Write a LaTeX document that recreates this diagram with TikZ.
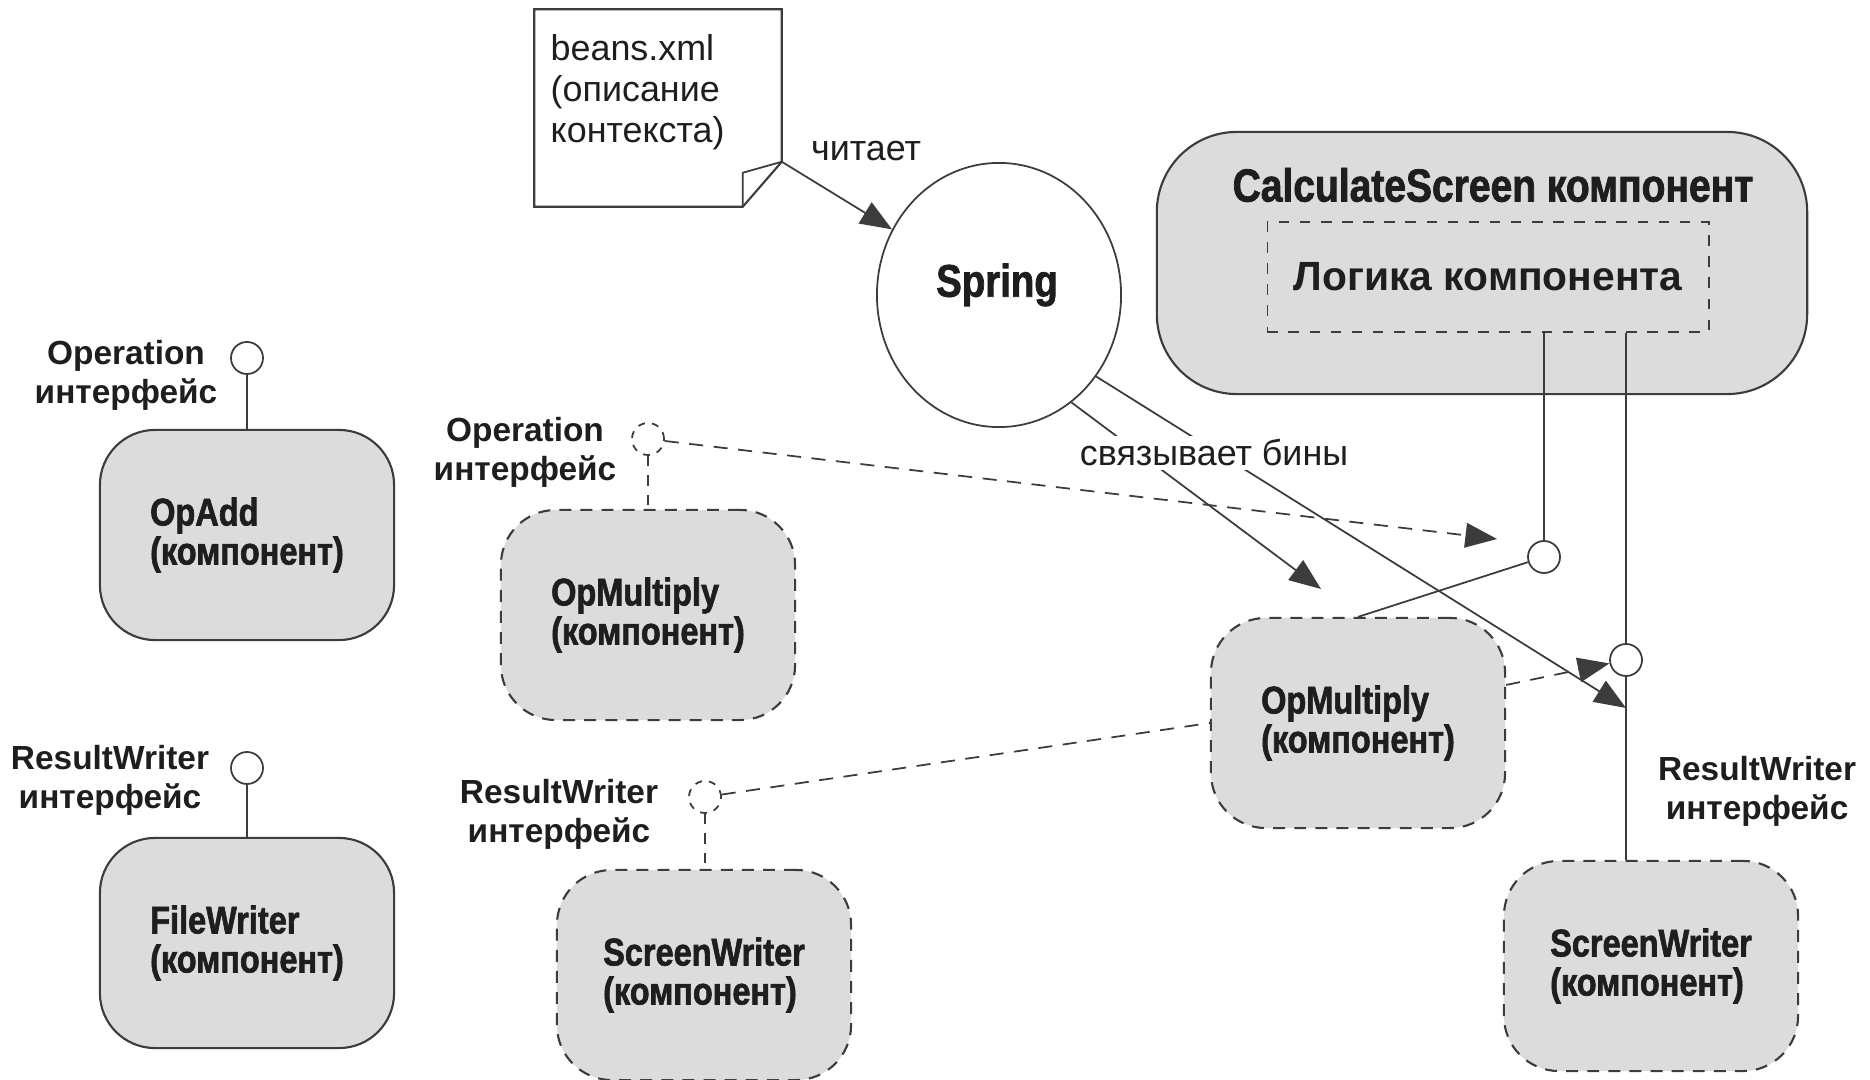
\documentclass[tikz,border=0pt]{standalone}
\usepackage{fontspec}
\setmainfont{Liberation Sans}
\newfontfamily\heavyfont[FakeStretch=0.84,BoldFeatures={FakeBold=1.6}]{Liberation Sans}
\usetikzlibrary{shapes.geometric,arrows.meta,calc}

\definecolor{compgray}{HTML}{DCDCDC}
\definecolor{linegray}{HTML}{3C3C3C}
\definecolor{textgray}{HTML}{1E1E1E}

\begin{document}
\begin{tikzpicture}[x=0.01cm,y=-0.01cm,text=textgray,
    comp/.style={draw=linegray, line width=0.6pt, fill=compgray, rounded corners=0.55cm,
      minimum width=2.94cm, minimum height=2.1cm, align=left,
      font=\heavyfont\bfseries\fontsize{11}{11.1}\selectfont},
    compdash/.style={comp, dash pattern=on 3.4pt off 2.6pt},
    iface/.style={circle, draw=linegray, line width=0.5pt, fill=white, inner sep=0pt, minimum size=0.32cm},
    ifacedash/.style={iface, dash pattern=on 2pt off 2pt},
    ilabel/.style={align=center, inner sep=0pt, font=\bfseries\fontsize{9.5}{11.1}\selectfont},
    lbl/.style={inner sep=1pt, font=\fontsize{10.2}{11.7}\selectfont},
    conn/.style={draw=linegray, line width=0.5pt},
    arr/.style={conn, -{Triangle[length=9pt,width=7pt]}},
    dasharr/.style={arr, dash pattern=on 4pt off 3pt},
    dashconn/.style={conn, dash pattern=on 4pt off 3pt}]

  \useasboundingbox (0,0) rectangle (1870,1080);

  % context file
  \node[minimum width=2.46cm, minimum height=1.96cm] (doc) at (658,108) {};
  \draw[conn, line width=0.6pt] (doc.north west) -- (doc.north east)
    -- ($(doc.south east)+(0,-45)$) coordinate (docCorner)
    -- ($(doc.south east)+(-39,0)$) coordinate (docFold)
    -- (doc.south west) -- cycle;
  \draw[conn] (docFold) -- ++(0,-34) -- (docCorner);
  \node[lbl, align=left, anchor=north west, inner sep=0pt] (docTxt) at (550,34) {beans.xml\\(описание\\контекста)};

  % spring container
  \node[ellipse, draw=linegray, line width=0.5pt, minimum width=2.44cm, minimum height=2.64cm] (spring) at (999,295) {};
  \node[font=\heavyfont\bfseries\fontsize{13}{14}\selectfont] (springTxt) at (997,285) {Spring};

  % calculate screen component
  \node[draw=linegray, line width=0.6pt, fill=compgray, rounded corners=0.8cm,
    minimum width=6.5cm, minimum height=2.62cm] (calc) at (1482,263) {};
  \node[font=\heavyfont\bfseries\fontsize{13.2}{14}\selectfont] (calcTitle) at (1493,185) {CalculateScreen компонент};
  \node[draw=linegray, line width=0.5pt, dash pattern=on 3pt off 3pt, minimum width=4.41cm, minimum height=1.1cm,
    font=\bfseries\fontsize{11.6}{12}\selectfont] (logic) at (1488,277) {Логика компонента};

  % components
  \node[comp] (opAdd) at (247,535) {OpAdd\\(компонент)};
  \node[comp] (fileWr) at (247,943) {FileWriter\\(компонент)};
  \node[compdash] (opMulM) at (648,615) {OpMultiply\\(компонент)};
  \node[compdash] (opMulR) at (1358,723) {OpMultiply\\(компонент)};
  \node[compdash] (scrWrM) at (704,975) {ScreenWriter\\(компонент)};
  \node[compdash] (scrWrR) at (1651,966) {ScreenWriter\\(компонент)};

  % interfaces
  \node[iface] (opAddIf) at (247,358) {};
  \node[iface] (fileWrIf) at (247,768) {};
  \node[ifacedash] (opMulIf) at (648,439) {};
  \node[ifacedash] (scrWrIf) at (705,797) {};
  \node[iface] (calcOpIf) at (1544,557) {};
  \node[iface] (calcWrIf) at (1626,660) {};

  \foreach \i/\c in {opAddIf/opAdd, fileWrIf/fileWr} {%
    \draw[conn] (\i) -- (\i |- \c.north);
  }
  \foreach \i/\c in {opMulIf/opMulM, scrWrIf/scrWrM} {%
    \draw[conn, dash pattern=on 3pt off 2.5pt] (\i) -- (\i |- \c.north);
  }

  % interface labels
  \node[ilabel] (opAddLbl) at (126,375) {Operation\\интерфейс};
  \node[ilabel] (fileWrLbl) at (110,780) {ResultWriter\\интерфейс};
  \node[ilabel] (opMulLbl) at (525,452) {Operation\\интерфейс};
  \node[ilabel] (scrWrLbl) at (559,814) {ResultWriter\\интерфейс};
  \node[ilabel] (calcWrLbl) at (1757,791) {ResultWriter\\интерфейс};

  % wiring inside calculate screen
  \draw[conn] (calcOpIf.north |- logic.south) -- (calcOpIf);
  \draw[conn] (calcWrIf.north |- logic.south) -- (calcWrIf);
  \draw[conn] (calcWrIf) -- (calcWrIf |- scrWrR.north);
  \draw[conn] (opMulR.north) -- (calcOpIf);

  % dashed bindings
  \coordinate (opTgt) at (1497,539);
  \draw[dasharr] (opMulIf) -- (opTgt);
  \draw[dasharr] ([yshift=0.38cm]opMulR.east) -- (calcWrIf);
  \draw[dashconn] (scrWrIf) -- (opMulR.west);

  % spring reads and wires
  \draw[arr] (docCorner) -- (spring);
  \node[lbl] (readLbl) at (866,151) {читает};
  \coordinate (bindA) at (1321,589);
  \coordinate (bindB) at (1626,708);
  \draw[arr] (spring.-56) -- (bindA);
  \draw[arr] (spring.-40) -- (bindB);
  \node[lbl, fill=white] (bindLbl) at (1214,453) {связывает бины};
\end{tikzpicture}
\end{document}
